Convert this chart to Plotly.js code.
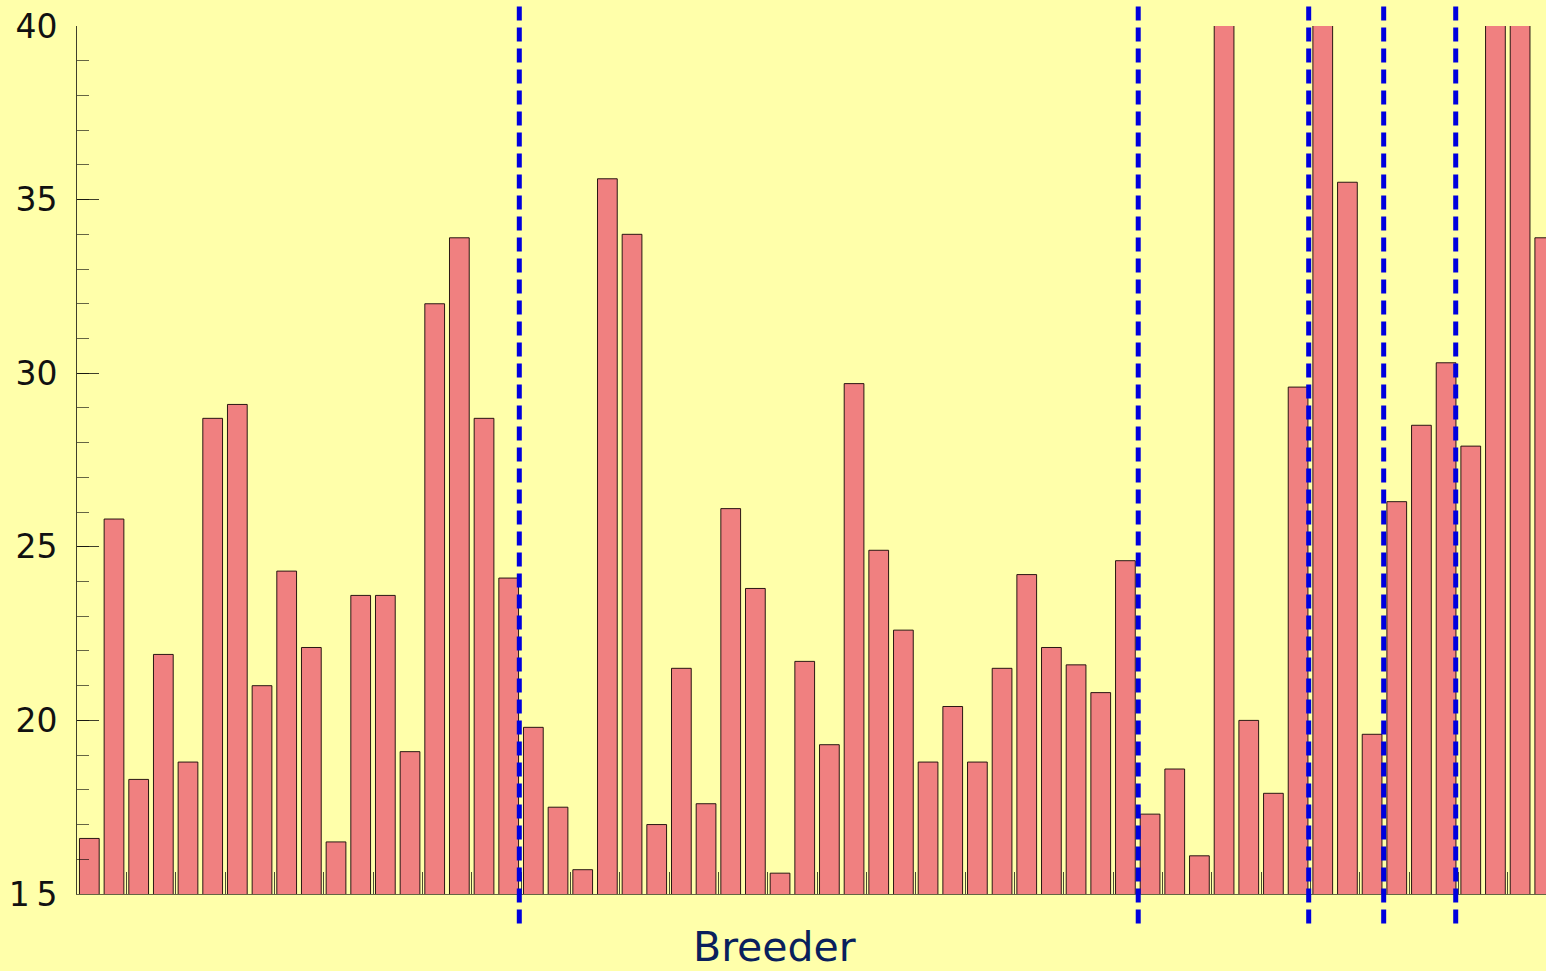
<!DOCTYPE html>
<html>
<head>
<meta charset="utf-8">
<script src="https://cdn.plot.ly/plotly-3.0.1.min.js"></script>
<style>
html,body{margin:0;padding:0;background:#FFFFAA;}
#chart{width:1546px;height:971px;}
</style>
</head>
<body>
<div id="chart"></div>
<script>
// Breeder index (one bar per breeder)
const breeders = [];
for (let i = 1; i <= 60; i++) breeders.push(i);

// Bar heights (values above 40 are clipped in the reference)
const values = [
  16.6, 25.8, 18.3, 21.9, 18.8, 28.7, 29.1, 21.0, 24.3, 22.1,
  16.5, 23.6, 23.6, 19.1, 32.0, 33.9, 28.7, 24.1, 19.8, 17.5,
  15.7, 35.6, 34.0, 17.0, 21.5, 17.6, 26.1, 23.8, 15.6, 21.7,
  19.3, 29.7, 24.9, 22.6, 18.8, 20.4, 18.8, 21.5, 24.2, 22.1,
  21.6, 20.8, 24.6, 17.3, 18.6, 16.1, 42.0, 20.0, 17.9, 29.6,
  42.0, 35.5, 19.6, 26.3, 28.5, 30.3, 27.9, 42.0, 42.0, 33.9
];

// Positions of the dashed group separators (in breeder units)
const separators = [18.43, 43.52, 50.43, 53.47, 56.39];

// Axis settings
const yRange = [15, 40];
const yTickVals = [15, 20, 25, 30, 35, 40];
const yTickText = ['1\u20095', '20', '25', '30', '35', '40'];
const xTitle = 'Breeder';

const trace = {
  type: 'bar',
  x: breeders,
  y: values,
  marker: {
    color: '#F08080',
    line: {color: 'rgba(20,5,5,0.9)', width: 1}
  },
  hoverinfo: 'x+y'
};

const shapes = separators.map(s => ({
  type: 'line',
  xref: 'x', yref: 'paper',
  x0: s, x1: s,
  y0: -0.034, y1: 1.04,
  line: {color: '#0000DD', width: 5, dash: '14px,7px'},
  layer: 'above'
}));

const layout = {
  width: 1546,
  height: 971,
  margin: {l: 77, r: 0, t: 26, b: 77, pad: 0},
  paper_bgcolor: '#FFFFAA',
  plot_bgcolor: '#FFFFAA',
  showlegend: false,
  bargap: 0.2,
  font: {family: 'DejaVu Sans, sans-serif', color: '#000'},
  xaxis: {
    range: [0.5, 60.05],
    showgrid: false,
    zeroline: false,
    showline: true,
    linecolor: 'rgba(0,0,0,0.6)',
    linewidth: 1,
    ticks: 'inside',
    ticklen: 22,
    tickcolor: 'rgba(0,0,0,0.7)',
    tickwidth: 1,
    tick0: 0.5,
    dtick: 2,
    showticklabels: false
  },
  yaxis: {
    range: yRange,
    showgrid: false,
    zeroline: false,
    showline: true,
    linecolor: 'rgba(0,0,0,0.75)',
    linewidth: 1,
    ticks: 'inside',
    ticklen: 22,
    tickcolor: 'rgba(0,0,0,0.75)',
    tickwidth: 1,
    tickmode: 'array',
    tickvals: yTickVals,
    ticktext: yTickText,
    tickfont: {family: 'DejaVu Sans, sans-serif', size: 33, color: '#111'},
    ticklabelstandoff: 12,
    minor: {
      dtick: 1,
      ticks: 'inside',
      ticklen: 12,
      tickcolor: 'rgba(0,0,0,0.6)',
      tickwidth: 1,
      showgrid: false
    }
  },
  shapes: shapes,
  annotations: [{
    text: xTitle,
    xref: 'paper', yref: 'paper',
    x: 0.475, y: -0.061,
    xanchor: 'center', yanchor: 'middle',
    showarrow: false,
    font: {family: 'DejaVu Sans, sans-serif', size: 41, color: '#0A1F5C'}
  }]
};

Plotly.newPlot('chart', [trace], layout, {staticPlot: true, displayModeBar: false});
</script>
</body>
</html>
